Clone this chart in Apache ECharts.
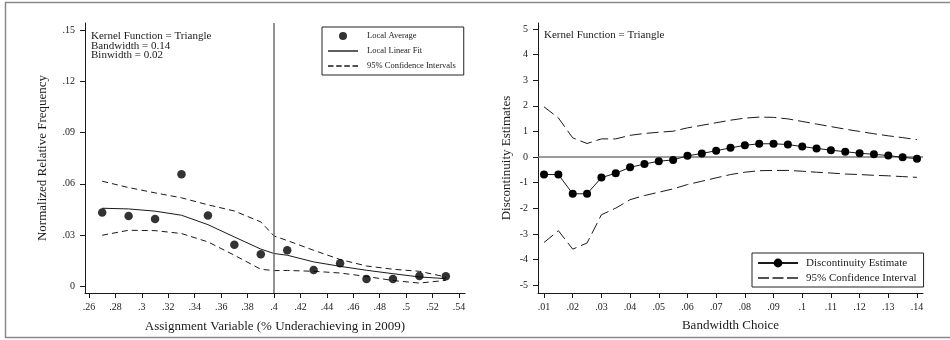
<!DOCTYPE html>
<html>
<head>
<meta charset="utf-8">
<script src="https://cdn.jsdelivr.net/npm/echarts@6/dist/echarts.min.js"></script>
<style>
  html, body { margin: 0; padding: 0; background: #fff; }
  #chart { width: 950px; height: 340px; }
</style>
</head>
<body>
<div id="chart"></div>
<script>
// left panel: density around the .4 cutoff
const binX = [0.27, 0.29, 0.31, 0.33, 0.35, 0.37, 0.39, 0.41, 0.43, 0.45, 0.47, 0.49, 0.51, 0.53];
const localAvg = [0.0432, 0.0412, 0.0394, 0.0656, 0.0414, 0.0244, 0.0188, 0.0211, 0.0096, 0.0135, 0.0043, 0.0043, 0.0060, 0.0059];
const fitX = [0.27, 0.29, 0.31, 0.33, 0.35, 0.37, 0.39, 0.40, 0.41, 0.43, 0.45, 0.47, 0.49, 0.51, 0.53];
const fitY = [0.0457, 0.0453, 0.0440, 0.0416, 0.0361, 0.0289, 0.0218, 0.0192, 0.0182, 0.0143, 0.0117, 0.0094, 0.0074, 0.0055, 0.0045];
const ciUpper = [0.0615, 0.0578, 0.0547, 0.0518, 0.0477, 0.0441, 0.0377, 0.0295, 0.0268, 0.0211, 0.0157, 0.0119, 0.0100, 0.0088, 0.0055];
const ciLower = [0.0299, 0.0328, 0.0326, 0.0309, 0.0260, 0.0182, 0.0100, 0.0092, 0.0093, 0.0088, 0.0078, 0.0058, 0.0034, 0.0019, 0.0035];
const cutoff = 0.4;
const leftXTicks = [0.26, 0.28, 0.30, 0.32, 0.34, 0.36, 0.38, 0.40, 0.42, 0.44, 0.46, 0.48, 0.50, 0.52, 0.54];
const leftYTicks = [0, 0.03, 0.06, 0.09, 0.12, 0.15];

// right panel: estimate by bandwidth
const bandwidths = [0.01, 0.015, 0.02, 0.025, 0.03, 0.035, 0.04, 0.045, 0.05, 0.055, 0.06, 0.065, 0.07, 0.075,
  0.08, 0.085, 0.09, 0.095, 0.10, 0.105, 0.11, 0.115, 0.12, 0.125, 0.13, 0.135, 0.14];
const estimate = [-0.68, -0.68, -1.43, -1.43, -0.80, -0.63, -0.40, -0.27, -0.16, -0.11, 0.05, 0.14, 0.25, 0.36,
  0.46, 0.52, 0.52, 0.49, 0.41, 0.34, 0.27, 0.21, 0.15, 0.11, 0.06, -0.01, -0.06];
const estUpper = [1.96, 1.53, 0.75, 0.53, 0.71, 0.71, 0.85, 0.92, 0.97, 1.01, 1.14, 1.24, 1.34, 1.44,
  1.52, 1.56, 1.55, 1.49, 1.39, 1.29, 1.19, 1.09, 1.00, 0.91, 0.83, 0.76, 0.68];
const estLower = [-3.33, -2.87, -3.59, -3.35, -2.25, -1.99, -1.66, -1.50, -1.37, -1.24, -1.07, -0.94, -0.81, -0.68,
  -0.59, -0.53, -0.52, -0.52, -0.55, -0.59, -0.62, -0.66, -0.68, -0.71, -0.73, -0.76, -0.79];
const rightXTicks = [0.01, 0.02, 0.03, 0.04, 0.05, 0.06, 0.07, 0.08, 0.09, 0.10, 0.11, 0.12, 0.13, 0.14];
const rightYTicks = [-5, -4, -3, -2, -1, 0, 1, 2, 3, 4, 5];

const FONT = "'Liberation Serif', 'DejaVu Serif', serif";
const INK = '#1a1a1a';

// legend keys drawn as thin filled bars
const ICON_SOLID = 'path://M0,0H30V1.4H0Z';
const ICON_SHORT_DASH = 'path://M0,0H5.5V1.4H0Z M8.2,0H13.7V1.4H8.2Z M16.3,0H21.8V1.4H16.3Z M24.5,0H30V1.4H24.5Z';
const ICON_LONG_DASH = 'path://M0,0H11V1.4H0Z M14.5,0H25.5V1.4H14.5Z M29,0H40V1.4H29Z';

function zip(xs, ys) {
  return xs.map((x, i) => [x, ys[i]]);
}
// stata style: .26 instead of 0.26
function dotFmt(v) {
  if (Math.abs(v) < 1e-9) return '0';
  return String(parseFloat(v.toFixed(3))).replace('0.', '.');
}

function axisBase(extra) {
  return Object.assign({
    type: 'value',
    splitLine: { show: false },
    axisLine: { show: true, onZero: false, lineStyle: { color: INK, width: 1 } },
    nameLocation: 'middle',
    nameTextStyle: { color: INK, fontFamily: FONT, fontSize: 13 }
  }, extra);
}
function ticks(vals) {
  return { show: true, length: 5, lineStyle: { color: INK }, customValues: vals };
}
function labels(vals, fmt, margin) {
  return { color: INK, fontFamily: FONT, fontSize: 10, margin: margin, customValues: vals, formatter: fmt };
}

let myChart = echarts.init(document.getElementById('chart'));

let option = {
  animation: false,
  backgroundColor: '#fff',
  grid: [
    { left: 85, top: 23, width: 380, height: 270 },
    { left: 538, top: 23, width: 385, height: 270 }
  ],
  xAxis: [
    axisBase({
      gridIndex: 0, min: 0.257, max: 0.5445,
      name: 'Assignment Variable (% Underachieving in 2009)', nameGap: 27,
      axisTick: ticks(leftXTicks), axisLabel: labels(leftXTicks, dotFmt, 9)
    }),
    axisBase({
      gridIndex: 1, min: 0.0079, max: 0.1421,
      name: 'Bandwidth Choice', nameGap: 26,
      axisTick: ticks(rightXTicks), axisLabel: labels(rightXTicks, dotFmt, 9)
    })
  ],
  yAxis: [
    axisBase({
      gridIndex: 0, min: -0.0039, max: 0.1541,
      name: 'Normalized Relative Frequency', nameGap: 36,
      axisTick: ticks(leftYTicks), axisLabel: labels(leftYTicks, dotFmt, 10)
    }),
    axisBase({
      gridIndex: 1, min: -5.3, max: 5.23,
      name: 'Discontinuity Estimates', nameGap: 25,
      axisTick: ticks(rightYTicks), axisLabel: labels(rightYTicks, v => String(Math.round(v)), 10)
    })
  ],
  legend: [
    {
      orient: 'vertical', left: 322, top: 27,
      data: [
        { name: 'Local Average', icon: 'circle' },
        { name: 'Local Linear Fit', icon: ICON_SOLID },
        { name: '95% Confidence Intervals', icon: ICON_SHORT_DASH }
      ],
      itemWidth: 30, itemHeight: 8, itemGap: 5,
      padding: [4, 8, 4, 6],
      borderColor: '#222', borderWidth: 1, backgroundColor: '#fff',
      selectedMode: false,
      textStyle: { color: INK, fontFamily: FONT, fontSize: 8.5, lineHeight: 10, padding: [0, 0, 0, 4] }
    },
    {
      orient: 'vertical', left: 752, top: 253,
      data: [
        { name: 'Discontinuity Estimate' },
        { name: '95% Confidence Interval', icon: ICON_LONG_DASH }
      ],
      itemWidth: 40, itemHeight: 11, itemGap: 3,
      padding: [4, 7, 3, 5],
      borderColor: '#222', borderWidth: 1, backgroundColor: '#fff',
      selectedMode: false,
      textStyle: { color: INK, fontFamily: FONT, fontSize: 11, lineHeight: 12, padding: [0, 0, 0, 3] }
    }
  ],
  graphic: [
    {
      type: 'rect', silent: true, z: -1,
      shape: { x: 5.5, y: 2.5, width: 960, height: 335 },
      style: { fill: 'none', stroke: '#8a8a8a', lineWidth: 1.5 }
    },
    {
      type: 'text', left: 91, top: 31,
      style: { text: 'Kernel Function = Triangle\nBandwidth = 0.14\nBinwidth = 0.02', fill: INK, font: '11px ' + FONT, lineHeight: 9.5 }
    },
    {
      type: 'text', left: 544, top: 30,
      style: { text: 'Kernel Function = Triangle', fill: INK, font: '11px ' + FONT, lineHeight: 10 }
    }
  ],
  series: [
    {
      name: 'Local Linear Fit', type: 'line', xAxisIndex: 0, yAxisIndex: 0,
      data: zip(fitX, fitY), symbol: 'none',
      lineStyle: { color: INK, width: 1 }, itemStyle: { color: INK },
      markLine: {
        silent: true, symbol: 'none', label: { show: false },
        lineStyle: { color: '#6e6e6e', width: 1.5, type: 'solid' },
        data: [{ xAxis: cutoff }]
      }
    },
    {
      name: '95% Confidence Intervals', type: 'line', xAxisIndex: 0, yAxisIndex: 0,
      data: zip(fitX, ciUpper), symbol: 'none',
      lineStyle: { color: INK, width: 1, type: [6, 4] }, itemStyle: { color: INK }
    },
    {
      name: '95% Confidence Intervals', type: 'line', xAxisIndex: 0, yAxisIndex: 0,
      data: zip(fitX, ciLower), symbol: 'none',
      lineStyle: { color: INK, width: 1, type: [6, 4] }, itemStyle: { color: INK }
    },
    {
      name: 'Local Average', type: 'scatter', xAxisIndex: 0, yAxisIndex: 0,
      data: zip(binX, localAvg), symbol: 'circle', symbolSize: 8.5,
      itemStyle: { color: '#000' }, z: 5
    },
    {
      name: '95% Confidence Interval', type: 'line', xAxisIndex: 1, yAxisIndex: 1,
      data: zip(bandwidths, estUpper), symbol: 'none',
      lineStyle: { color: INK, width: 1, type: [12, 5] }, itemStyle: { color: INK }
    },
    {
      name: '95% Confidence Interval', type: 'line', xAxisIndex: 1, yAxisIndex: 1,
      data: zip(bandwidths, estLower), symbol: 'none',
      lineStyle: { color: INK, width: 1, type: [12, 5] }, itemStyle: { color: INK }
    },
    {
      name: 'Discontinuity Estimate', type: 'line', xAxisIndex: 1, yAxisIndex: 1,
      data: zip(bandwidths, estimate), symbol: 'circle', symbolSize: 8, showSymbol: true,
      lineStyle: { color: INK, width: 1 }, itemStyle: { color: '#000' }, z: 5,
      markLine: {
        silent: true, symbol: 'none', label: { show: false },
        lineStyle: { color: '#7a7a7a', width: 1.5, type: 'solid' },
        data: [{ yAxis: 0 }]
      }
    }
  ]
};

myChart.setOption(option);
</script>
</body>
</html>
